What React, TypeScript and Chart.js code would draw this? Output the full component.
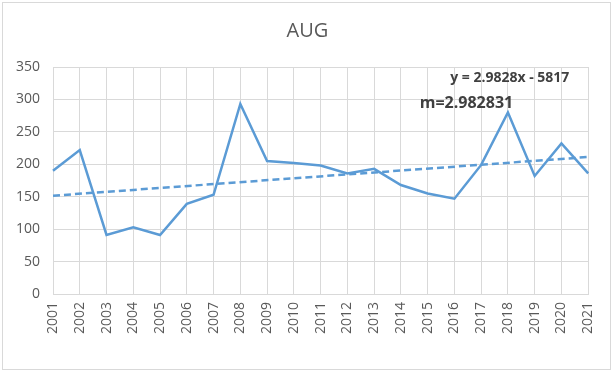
import React, { useEffect, useRef } from "react";
import { Chart, registerables } from "chart.js";

Chart.register(...registerables);

const title = "AUG";
const years = [
  "2001", "2002", "2003", "2004", "2005", "2006", "2007", "2008", "2009", "2010", "2011",
  "2012", "2013", "2014", "2015", "2016", "2017", "2018", "2019", "2020", "2021",
];
const augValues = [190, 222, 91, 103, 91, 139, 153, 293, 205, 202, 198, 186, 193, 168, 155, 147, 199, 280, 182, 232, 186];
const yMin = 0;
const yMax = 350;
const yStep = 50;
const trendSlope = 2.9828;
const trendIntercept = -5817;
const equationText = "y = 2.9828x - 5817";
const slopeText = "m=2.982831";

const FONT = "'Open Sans', 'Liberation Sans', sans-serif";
const TEXT = "#595959";
const GRID = "#d9d9d9";
const LINE = "#5B9BD5";

export default function App() {
  const ref = useRef<HTMLCanvasElement | null>(null);

  useEffect(() => {
    if (!ref.current) return;
    const last = years.length - 1;
    const trend = years.map((y, i) =>
      i === 0 || i === last ? trendSlope * Number(y) + trendIntercept : null
    );

    const decor = {
      id: "decor",
      beforeDraw(chart: any) {
        const ctx = chart.ctx;
        ctx.save();
        ctx.fillStyle = "#ffffff";
        ctx.fillRect(0, 0, chart.width, chart.height);
        ctx.strokeStyle = GRID;
        ctx.lineWidth = 1;
        ctx.strokeRect(2.5, 2.5, chart.width - 5, chart.height - 6);
        ctx.restore();
      },
      afterDraw(chart: any) {
        const ctx = chart.ctx;
        const xs = chart.scales.x;
        const ys = chart.scales.y;
        ctx.save();
        ctx.textAlign = "center";
        ctx.textBaseline = "middle";
        ctx.fillStyle = TEXT;
        ctx.font = `20px ${FONT}`;
        ctx.fillText(title, chart.width / 2 + 1, 31);
        ctx.fillStyle = "#404040";
        ctx.font = `bold 14px ${FONT}`;
        ctx.fillText(equationText, xs.getPixelForValue(17.07), ys.getPixelForValue(333));
        ctx.font = `bold 16px ${FONT}`;
        ctx.fillText(slopeText, xs.getPixelForValue(15.45), ys.getPixelForValue(294));
        ctx.restore();
      },
    };

    const chart = new Chart(ref.current, {
      type: "line",
      data: {
        labels: years,
        datasets: [
          {
            label: title,
            data: augValues,
            borderColor: LINE,
            borderWidth: 2.5,
            pointRadius: 0,
            tension: 0,
            fill: false,
          },
          {
            label: "Linear (AUG)",
            data: trend,
            borderColor: LINE,
            borderWidth: 2.5,
            borderDash: [7, 4],
            pointRadius: 0,
            spanGaps: true,
            fill: false,
          },
        ],
      },
      options: {
        animation: false,
        responsive: false,
        devicePixelRatio: 1,
        layout: { padding: { left: 0, top: 67, right: 20, bottom: 0 } },
        plugins: {
          legend: { display: false },
          title: { display: false },
          tooltip: { enabled: false },
        },
        scales: {
          x: {
            type: "category",
            offset: false,
            grid: { color: GRID, drawTicks: false, lineWidth: 1 },
            border: { color: GRID },
            ticks: {
              autoSkip: false,
              minRotation: 90,
              maxRotation: 90,
              padding: 8,
              color: TEXT,
              font: { family: FONT, size: 14 },
            },
            afterFit(s: any) {
              s.height = 79;
            },
          },
          y: {
            min: yMin,
            max: yMax,
            grid: { color: GRID, drawTicks: false, lineWidth: 1 },
            border: { display: false },
            ticks: {
              stepSize: yStep,
              padding: 13,
              color: TEXT,
              font: { family: FONT, size: 14 },
            },
            afterFit(s: any) {
              s.width = 53;
            },
          },
        },
      },
      plugins: [decor],
    } as any);

    return () => chart.destroy();
  }, []);

  return (
    <div style={{ position: "fixed", left: 0, top: 0, width: 613, height: 373, background: "#fff" }}>
      <canvas ref={ref} width={613} height={373} style={{ display: "block" }} />
    </div>
  );
}
